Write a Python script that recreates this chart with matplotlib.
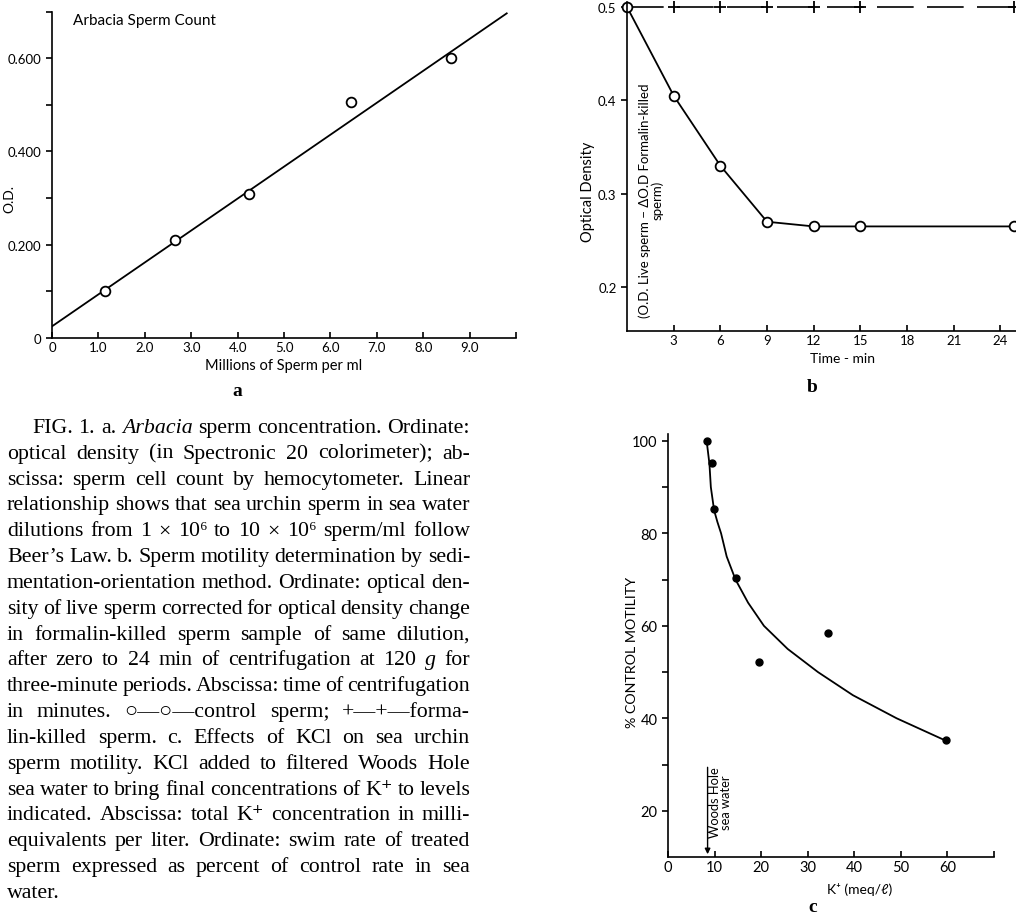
import matplotlib
matplotlib.use("Agg")
import matplotlib.pyplot as plt
from matplotlib.transforms import IdentityTransform

plt.rcParams["font.family"] = ["Lato", "DejaVu Sans"]
plt.rcParams["axes.linewidth"] = 1.2

# --- panel a: sperm count vs optical density ---
count_x = [1.15, 2.65, 4.25, 6.45, 8.6]
count_od = [0.100, 0.211, 0.309, 0.506, 0.600]
fit_x = [0.0, 9.8]
fit_od = [0.025, 0.696]
a_xticks = [0, 1, 2, 3, 4, 5, 6, 7, 8, 9, 10]
a_xlabels = ["0", "1.0", "2.0", "3.0", "4.0", "5.0", "6.0", "7.0", "8.0", "9.0", ""]
a_yticks = [0, 0.1, 0.2, 0.3, 0.4, 0.5, 0.6, 0.7]
a_ylabels = ["0", "", "0.200", "", "0.400", "", "0.600", ""]

# --- panel b: sedimentation over time ---
time_min = [0, 3, 6, 9, 12, 15, 24.9]
od_live = [0.500, 0.405, 0.330, 0.270, 0.265, 0.265, 0.265]
od_formalin = [0.500, 0.500, 0.500, 0.500, 0.500, 0.500, 0.500]
b_xticks = [3, 6, 9, 12, 15, 18, 21, 24]
b_yticks = [0.2, 0.3, 0.4, 0.5]

# --- panel c: KCl effect on motility ---
k_conc = [8.3, 9.4, 9.9, 14.6, 19.5, 34.3, 59.7]
motility = [100, 95.3, 85.3, 70.4, 52.2, 58.5, 35.3]
curve_k = [8.3, 8.6, 8.9, 9.2, 9.9, 10.6, 11.4, 12.6, 14.5, 17.2, 20.6, 25.7, 32.2, 39.7, 49.1, 60.0]
curve_mot = [100, 97.5, 95, 90, 85, 82.5, 80, 75, 70, 65, 60, 55, 50, 45, 40, 35]
c_xticks = [0, 10, 20, 30, 40, 50, 60, 70]
c_xlabels = ["0", "10", "20", "30", "40", "50", "60", ""]
c_yticks = [20, 30, 40, 50, 60, 70, 80, 90, 100]
c_ylabels = ["20", "", "40", "", "60", "", "80", "", "100"]

caption = [
    "FIG. 1. a. *Arbacia sperm concentration. Ordinate:",
    "optical density (in Spectronic 20 colorimeter); ab-",
    "scissa: sperm cell count by hemocytometer. Linear",
    "relationship shows that sea urchin sperm in sea water",
    "dilutions from 1 × 10⁶ to 10 × 10⁶ sperm/ml follow",
    "Beer’s Law. b. Sperm motility determination by sedi-",
    "mentation-orientation method. Ordinate: optical den-",
    "sity of live sperm corrected for optical density change",
    "in formalin-killed sperm sample of same dilution,",
    "after zero to 24 min of centrifugation at 120 *g for",
    "three-minute periods. Abscissa: time of centrifugation",
    "in minutes. ○—○—control sperm; +—+—forma-",
    "lin-killed sperm. c. Effects of KCl on sea urchin",
    "sperm motility. KCl added to filtered Woods Hole",
    "sea water to bring final concentrations of K⁺ to levels",
    "indicated. Abscissa: total K⁺ concentration in milli-",
    "equivalents per liter. Ordinate: swim rate of treated",
    "sperm expressed as percent of control rate in sea",
    "water.",
]

W, H = 1016, 920
fig = plt.figure(figsize=(W / 100, H / 100), dpi=100)


def px_axes(left, top, right, bottom):
    return fig.add_axes([left / W, 1 - bottom / H, (right - left) / W, (bottom - top) / H])


def style(ax):
    for s in ["top", "right"]:
        ax.spines[s].set_visible(False)
    ax.tick_params(axis="x", direction="in", length=4, width=1.2, labelsize=9.5, pad=2)
    ax.tick_params(axis="y", direction="out", length=4, width=1.2, labelsize=9.5)


# panel a
ax_a = px_axes(52, 12.5, 516, 339)
ax_a.plot(fit_x, fit_od, color="black", lw=1.3)
ax_a.plot(count_x, count_od, "o", ms=7, mfc="white", mec="black", mew=1.3)
ax_a.set_xlim(0, 10)
ax_a.set_ylim(0, 0.7)
ax_a.set_xticks(a_xticks)
ax_a.set_xticklabels(a_xlabels)
ax_a.set_yticks(a_yticks)
ax_a.set_yticklabels(a_ylabels)
style(ax_a)
ax_a.set_xlabel("Millions of Sperm per ml", fontsize=10.5)
ax_a.xaxis.set_label_coords(0.5, -0.062)
ax_a.set_ylabel("O.D.", fontsize=10)
ax_a.yaxis.set_label_coords(-0.08, 0.43)
ax_a.text(0.045, 0.975, "Arbacia Sperm Count", transform=ax_a.transAxes, fontsize=11, va="center")

# panel b
ax_b = px_axes(627, 3.3, 1016, 332)
ax_b.plot(time_min, od_formalin, color="black", lw=1.2, dashes=(22, 8),
          marker="+", ms=8, mew=1.3, markevery=slice(1, None), clip_on=False)
ax_b.plot(time_min, od_live, "-o", color="black", lw=1.3, ms=7, mfc="white",
          mec="black", mew=1.3, clip_on=False)
ax_b.set_xlim(0, 25.0)
ax_b.set_ylim(0.153, 0.505)
ax_b.set_xticks(b_xticks)
ax_b.set_yticks(b_yticks)
ax_b.set_yticklabels(["0.2", "0.3", "0.4", "0.5"])
style(ax_b)
ax_b.set_xlabel("Time - min", fontsize=10)
ax_b.xaxis.set_label_coords(0.555, -0.065)
ax_b.set_ylabel("Optical Density", fontsize=10.5)
ax_b.yaxis.set_label_coords(-0.082, 0.426)
ax_b.text(0.062, 0.40, "(O.D. Live sperm − ΔO.D Formalin-killed\nsperm)", transform=ax_b.transAxes,
          rotation=90, fontsize=9.5, ha="center", va="center", linespacing=0.95)

# panel c
ax_c = px_axes(668, 435, 994, 858)
ax_c.plot(curve_k, curve_mot, color="black", lw=1.3)
ax_c.plot(k_conc, motility, "o", color="black", ms=5)
ax_c.annotate("", xy=(8.5, 10), xytext=(8.5, 30),
              arrowprops=dict(arrowstyle="-|>", color="black", lw=1.0, mutation_scale=8))
ax_c.text(11.3, 22, "Woods Hole\nsea water", rotation=90, fontsize=9.3, ha="center", va="center",
          linespacing=0.9)
ax_c.set_xlim(0, 70)
ax_c.set_ylim(10, 101.5)
ax_c.set_xticks(c_xticks)
ax_c.set_xticklabels(c_xlabels)
ax_c.set_yticks(c_yticks)
ax_c.set_yticklabels(c_ylabels)
style(ax_c)
ax_c.tick_params(labelsize=10.5)
ax_c.set_xlabel("K⁺ (meq/ℓ)", fontsize=10)
ax_c.xaxis.set_label_coords(0.589, -0.06)
ax_c.set_ylabel("% CONTROL MOTILITY", fontsize=10.3)
ax_c.yaxis.set_label_coords(-0.092, 0.485)

# panel letters
serif = ["Liberation Serif", "DejaVu Serif", "DejaVu Sans"]
for lx, ly, s in [(237, 392, "a"), (812, 387, "b"), (813, 908, "c")]:
    fig.text(lx / W, 1 - ly / H, s, family=serif, fontsize=14, fontweight="bold",
             ha="center", va="center")

# justified caption
renderer = fig.canvas.get_renderer()
left_px, right_px = 7, 470
base_top, line_gap = 433, 25.83


def make_words(size):
    rows = []
    for i, line in enumerate(caption):
        words = []
        for w in line.split():
            italic = w.startswith("*")
            t = fig.text(0, 0, w.lstrip("*"), family=serif, fontsize=size,
                         style="italic" if italic else "normal",
                         transform=IdentityTransform(), ha="left", va="baseline")
            words.append(t)
        rows.append(words)
    return rows


size = 16
rows = make_words(size)
need = 1.0
for i, words in enumerate(rows):
    start = 32 if i == 0 else left_px
    tot = sum(t.get_window_extent(renderer).width for t in words)
    avail = right_px - start - 3.5 * (len(words) - 1)
    need = min(need, avail / tot)
if need < 1.0:
    for words in rows:
        for t in words:
            t.remove()
    size = size * need
    rows = make_words(size)

for i, words in enumerate(rows):
    start = 32 if i == 0 else left_px
    widths = [t.get_window_extent(renderer).width for t in words]
    y = H - (base_top + i * line_gap)
    if i == len(rows) - 1 or len(words) == 1:
        gap = size * 0.25
    else:
        gap = (right_px - start - sum(widths)) / (len(words) - 1)
    x = start
    for t, w in zip(words, widths):
        t.set_position((x, y))
        x += w + gap

fig.savefig("out.png", dpi=100)
